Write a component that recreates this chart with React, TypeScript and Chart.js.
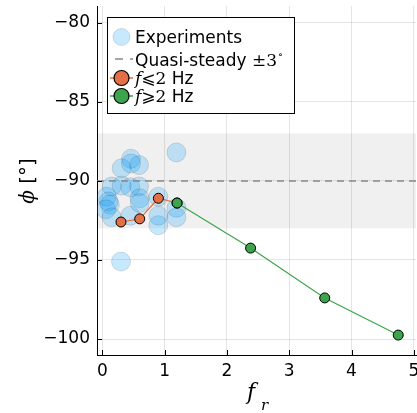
import React, { useEffect, useRef } from "react";
import { Chart, registerables } from "chart.js";

Chart.register(...registerables);

const EXP_X = [1.19, 0.46, 0.31, 0.59, 0.46, 0.15, 0.31, 0.45, 0.59, 0.6, 0.07, 0.1, 0.12, 0.06, 0.15, 0.45, 0.9, 0.9, 0.9, 1.19, 1.19, 0.3, 0.6];
const EXP_Y = [-88.2, -88.6, -89.2, -89.0, -88.9, -90.35, -90.3, -90.4, -90.35, -91.1, -91.0, -91.3, -91.5, -91.8, -92.3, -92.2, -91.0, -92.2, -92.8, -91.7, -92.3, -95.1, -91.4];
const LOW_X = [0.3, 0.6, 0.9, 1.2];
const LOW_Y = [-92.6, -92.4, -91.1, -91.4];
const HIGH_X = [1.2, 2.38, 3.57, 4.75];
const HIGH_Y = [-91.4, -94.25, -97.4, -99.75];
const QS_CENTER = -90;
const QS_TOL = 3;
const X_TICKS = [0, 1, 2, 3, 4, 5];
const Y_TICKS = [-100, -95, -90, -85, -80];
const X_MIN = -0.085;
const X_MAX = 5.035;
const Y_MIN = -101.01;
const Y_MAX = -78.94;

const EXP_FILL = "rgba(0,154,250,0.22)";
const EXP_STROKE = "rgba(0,0,0,0.12)";
const ORANGE = "#e26f46";
const GREEN = "#3da44d";
const SANS = "'DejaVu Sans', sans-serif";
const SERIF = "'DejaVu Serif', serif";

const pts = (xs: number[], ys: number[]) => xs.map((x, i) => ({ x, y: ys[i] }));

export default function App() {
  const ref = useRef<HTMLCanvasElement | null>(null);
  useEffect(() => {
    document.body.style.margin = "0";
    const canvas = ref.current!;
    const extras = {
      id: "extras",
      beforeDatasetsDraw(chart: any) {
        const { ctx, chartArea: a, scales } = chart;
        const y1 = scales.y.getPixelForValue(QS_CENTER + QS_TOL);
        const y2 = scales.y.getPixelForValue(QS_CENTER - QS_TOL);
        ctx.save();
        ctx.fillStyle = "rgba(0,0,0,0.06)";
        ctx.fillRect(a.left, y1, a.right - a.left, y2 - y1);
        ctx.restore();
      },
      afterDraw(chart: any) {
        const { ctx, chartArea: a, scales } = chart;
        ctx.save();
        ctx.strokeStyle = "#000";
        ctx.lineWidth = 1;
        ctx.beginPath();
        X_TICKS.forEach((v) => {
          const px = Math.round(scales.x.getPixelForValue(v)) + 0.5;
          ctx.moveTo(px, a.bottom);
          ctx.lineTo(px, a.bottom - 5);
        });
        Y_TICKS.forEach((v) => {
          const py = Math.round(scales.y.getPixelForValue(v)) + 0.5;
          ctx.moveTo(a.left, py);
          ctx.lineTo(a.left + 5, py);
        });
        ctx.stroke();

        // x tick labels
        ctx.fillStyle = "#000";
        ctx.font = `17px ${SANS}`;
        ctx.textAlign = "center";
        ctx.textBaseline = "alphabetic";
        X_TICKS.forEach((v) => {
          ctx.fillText(String(v), scales.x.getPixelForValue(v), 376);
        });

        // legend
        const bx = 107.5, by = 17.5, bw = 187, bh = 96;
        ctx.fillStyle = "#fff";
        ctx.fillRect(bx, by, bw, bh);
        ctx.strokeStyle = "#000";
        ctx.strokeRect(bx, by, bw, bh);
        const mx = 121.5, tx = 135;
        const FS = 17;
        ctx.textBaseline = "alphabetic";
        ctx.textAlign = "left";
        let ry = 37;
        ctx.beginPath();
        ctx.arc(mx, ry, 8.5, 0, Math.PI * 2);
        ctx.fillStyle = EXP_FILL;
        ctx.fill();
        ctx.strokeStyle = EXP_STROKE;
        ctx.stroke();
        ctx.fillStyle = "#000";
        ctx.font = `${FS}px ${SANS}`;
        ctx.fillText("Experiments", tx, ry + 6);
        ry = 59;
        ctx.strokeStyle = "#888";
        ctx.lineWidth = 1.5;
        ctx.setLineDash([8, 7]);
        ctx.beginPath();
        ctx.moveTo(115, ry);
        ctx.lineTo(133, ry);
        ctx.stroke();
        ctx.setLineDash([]);
        ctx.fillStyle = "#000";
        ctx.font = `${FS}px ${SANS}`;
        const q = "Quasi-steady ";
        ctx.fillText(q, tx, ry + 7);
        let cx = tx + ctx.measureText(q).width;
        ctx.font = `${FS}px ${SERIF}`;
        ctx.fillText("±3", cx, ry + 7);
        cx += ctx.measureText("±3").width + 1;
        ctx.font = `10px ${SERIF}`;
        ctx.fillText("∘", cx, ry - 1);
        const rows = [
          { y: 78, color: ORANGE, sym: "⩽" },
          { y: 96, color: GREEN, sym: "⩾" },
        ];
        rows.forEach((r) => {
          ctx.strokeStyle = r.color;
          ctx.lineWidth = 1.5;
          ctx.beginPath();
          ctx.moveTo(110, r.y);
          ctx.lineTo(133, r.y);
          ctx.stroke();
          ctx.beginPath();
          ctx.arc(mx, r.y, 7.5, 0, Math.PI * 2);
          ctx.fillStyle = r.color;
          ctx.fill();
          ctx.strokeStyle = "#000";
          ctx.lineWidth = 1.2;
          ctx.stroke();
          ctx.fillStyle = "#000";
          let x = tx;
          ctx.font = `italic ${FS}px ${SERIF}`;
          ctx.fillText("f", x, r.y + 6);
          x += ctx.measureText("f").width;
          ctx.font = `${FS}px ${SANS}`;
          ctx.fillText(r.sym, x, r.y + 6);
          x += ctx.measureText(r.sym).width;
          ctx.font = `${FS}px ${SERIF}`;
          ctx.fillText("2", x, r.y + 6);
          x += ctx.measureText("2").width;
          ctx.font = `${FS}px ${SANS}`;
          ctx.fillText(" Hz", x, r.y + 6);
        });

        // x label
        ctx.fillStyle = "#000";
        ctx.font = `italic 22px ${SERIF}`;
        ctx.fillText("f", 247, 399);
        ctx.font = `italic 15px ${SERIF}`;
        ctx.fillText("r", 261, 410);

        // y label
        ctx.translate(27, 181);
        ctx.rotate(-Math.PI / 2);
        ctx.font = `italic 20px ${SERIF}`;
        const wPhi = ctx.measureText("ϕ ").width;
        ctx.font = `20px ${SANS}`;
        const wB = ctx.measureText("[°]").width;
        const sx = -(wPhi + wB) / 2;
        ctx.font = `italic 20px ${SERIF}`;
        ctx.fillText("ϕ ", sx, 7);
        ctx.font = `20px ${SANS}`;
        ctx.fillText("[°]", sx + wPhi, 7);
        ctx.restore();
      },
    };

    const chart = new Chart(canvas, {
      type: "scatter",
      data: {
        datasets: [
          {
            label: "Experiments",
            data: pts(EXP_X, EXP_Y),
            backgroundColor: EXP_FILL,
            borderColor: EXP_STROKE,
            borderWidth: 1,
            pointRadius: 9.5,
            order: 4,
          },
          {
            label: "Quasi-steady",
            type: "line",
            data: [
              { x: X_MIN, y: QS_CENTER },
              { x: X_MAX, y: QS_CENTER },
            ],
            borderColor: "#888",
            borderWidth: 1.5,
            borderDash: [7, 5],
            pointRadius: 0,
            tension: 0,
            order: 3,
          },
          {
            label: "low",
            type: "line",
            data: pts(LOW_X, LOW_Y),
            borderColor: ORANGE,
            backgroundColor: ORANGE,
            borderWidth: 1.2,
            pointRadius: 5,
            pointBorderColor: "#000",
            pointBorderWidth: 1,
            tension: 0,
            order: 2,
          },
          {
            label: "high",
            type: "line",
            data: pts(HIGH_X, HIGH_Y),
            borderColor: GREEN,
            backgroundColor: GREEN,
            borderWidth: 1.2,
            pointRadius: 5,
            pointBorderColor: "#000",
            pointBorderWidth: 1,
            tension: 0,
            order: 1,
          },
        ],
      },
      options: {
        responsive: false,
        animation: false,
        devicePixelRatio: 1,
        layout: { autoPadding: false, padding: { top: 6, right: 1, left: 0, bottom: 0 } },
        plugins: { legend: { display: false }, tooltip: { enabled: false } },
        scales: {
          x: {
            type: "linear",
            min: X_MIN,
            max: X_MAX,
            afterBuildTicks: (s: any) => {
              s.ticks = X_TICKS.map((v) => ({ value: v }));
            },
            afterFit: (s: any) => {
              s.height = 58;
              s.paddingLeft = 0;
              s.paddingRight = 0;
            },
            grid: { color: "rgba(0,0,0,0.1)", drawTicks: false },
            border: { color: "#000", width: 1 },
            ticks: {
              color: "#000",
              font: { family: SANS, size: 17 },
              padding: 5,
              maxRotation: 0,
              callback: () => "",
            },
          },
          y: {
            type: "linear",
            min: Y_MIN,
            max: Y_MAX,
            afterBuildTicks: (s: any) => {
              s.ticks = Y_TICKS.map((v) => ({ value: v }));
            },
            afterFit: (s: any) => {
              s.width = 97;
              s.paddingTop = 0;
              s.paddingBottom = 0;
            },
            grid: { color: "rgba(0,0,0,0.1)", drawTicks: false },
            border: { color: "#000", width: 1 },
            ticks: {
              color: "#000",
              font: { family: SANS, size: 17 },
              padding: 7,
              callback: (v: any) => String(v).replace("-", "\u2212"),
            },
          },
        },
      },
      plugins: [extras],
    } as any);
    return () => chart.destroy();
  }, []);
  return (
    <div style={{ position: "absolute", left: 0, top: 0, width: 417, height: 413 }}>
      <canvas ref={ref} width={417} height={413} style={{ display: "block" }} />
    </div>
  );
}
